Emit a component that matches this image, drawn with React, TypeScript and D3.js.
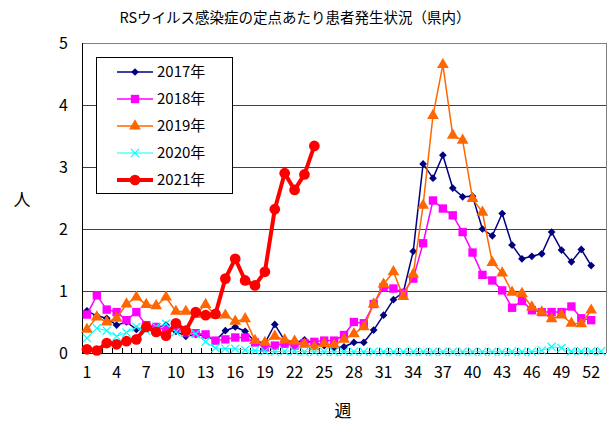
import React from "react";
import * as d3 from "d3";

const width = 610;
const height = 421;
const margin = { top: 43, right: 4, bottom: 68, left: 82 };

const title = "RSウイルス感染症の定点あたり患者発生状況（県内）";
const weekTicks = [1, 4, 7, 10, 13, 16, 19, 22, 25, 28, 31, 34, 37, 40, 43, 46, 49, 52];
const yTicks = [0, 1, 2, 3, 4, 5];

const y2017 = [0.68, 0.6, 0.56, 0.45, 0.5, 0.38, 0.42, 0.42, 0.45, 0.35, 0.27, 0.3, 0.28, 0.2, 0.36, 0.42, 0.35, 0.18, 0.16, 0.46, 0.2, 0.17, 0.21, 0.16, 0.12, 0.08, 0.1, 0.17, 0.17, 0.37, 0.61, 0.86, 0.98, 1.64, 3.05, 2.82, 3.19, 2.66, 2.52, 2.53, 2.0, 1.89, 2.25, 1.74, 1.52, 1.56, 1.6, 1.95, 1.66, 1.47, 1.67, 1.41];
const y2018 = [0.62, 0.93, 0.7, 0.66, 0.53, 0.66, 0.45, 0.42, 0.38, 0.42, 0.33, 0.32, 0.3, 0.2, 0.22, 0.25, 0.25, 0.17, 0.09, 0.12, 0.15, 0.12, 0.16, 0.18, 0.2, 0.2, 0.29, 0.5, 0.48, 0.79, 1.06, 1.04, 0.97, 1.2, 1.77, 2.46, 2.33, 2.22, 1.95, 1.62, 1.26, 1.17, 1.01, 0.73, 0.84, 0.69, 0.66, 0.66, 0.66, 0.75, 0.56, 0.53];
const y2019 = [0.38, 0.58, 0.5, 0.56, 0.79, 0.9, 0.78, 0.76, 0.9, 0.67, 0.67, 0.62, 0.78, 0.61, 0.61, 0.51, 0.55, 0.2, 0.17, 0.27, 0.21, 0.19, 0.14, 0.1, 0.15, 0.13, 0.22, 0.31, 0.42, 0.79, 1.11, 1.31, 0.91, 1.27, 2.38, 3.83, 4.65, 3.51, 3.43, 2.49, 2.27, 1.46, 1.29, 0.98, 0.96, 0.74, 0.66, 0.55, 0.61, 0.48, 0.47, 0.69];
const y2020 = [0.24, 0.4, 0.36, 0.27, 0.33, 0.42, 0.36, 0.42, 0.47, 0.34, 0.33, 0.31, 0.18, 0.08, 0.07, 0.07, 0.05, 0.04, 0.03, 0.02, 0.03, 0.03, 0.02, 0.02, 0.02, 0.02, 0.02, 0.02, 0.02, 0.02, 0.02, 0.02, 0.02, 0.02, 0.02, 0.02, 0.02, 0.02, 0.02, 0.02, 0.02, 0.02, 0.02, 0.02, 0.02, 0.02, 0.04, 0.1, 0.08, 0.03, 0.03, 0.03, 0.03];
const y2021 = [0.06, 0.04, 0.16, 0.14, 0.19, 0.22, 0.42, 0.34, 0.28, 0.48, 0.36, 0.66, 0.61, 0.63, 1.2, 1.52, 1.17, 1.09, 1.31, 2.32, 2.9, 2.63, 2.88, 3.34];

type Series = {
  name: string;
  values: number[];
  color: string;
  lineWidth: number;
  symbol: d3.SymbolType;
  size: number;
  rotate: number;
  stroke: boolean;
};

const series: Series[] = [
  { name: "2017年", values: y2017, color: "#000080", lineWidth: 1.5, symbol: d3.symbolSquare, size: 30, rotate: 45, stroke: false },
  { name: "2018年", values: y2018, color: "#ff00ff", lineWidth: 1.5, symbol: d3.symbolSquare, size: 70, rotate: 0, stroke: false },
  { name: "2019年", values: y2019, color: "#ff6600", lineWidth: 1.5, symbol: d3.symbolTriangle, size: 60, rotate: 0, stroke: false },
  { name: "2020年", values: y2020, color: "#00ffff", lineWidth: 1, symbol: d3.symbolX, size: 45, rotate: 0, stroke: true },
  { name: "2021年", values: y2021, color: "#ff0000", lineWidth: 4, symbol: d3.symbolCircle, size: 90, rotate: 0, stroke: false },
];

const font = "'Noto Sans CJK JP', 'Noto Sans', sans-serif";

const App = () => {
  const x = d3
    .scaleLinear()
    .domain([0.5, 53.5])
    .range([margin.left, width - margin.right]);
  const y = d3
    .scaleLinear()
    .domain([0, 5])
    .range([height - margin.bottom, margin.top]);

  const lineGen = d3
    .line<number>()
    .x((d, i) => x(i + 1))
    .y((d) => y(d));

  const minorTicks = d3.range(1, 53).map((w) => w + 0.5);
  const x0 = margin.left;
  const x1 = width - margin.right;
  const yb = height - margin.bottom;

  const marker = (s: Series, cx: number, cy: number, key: string | number) => (
    <path
      key={key}
      d={d3.symbol(s.symbol, s.size)() as string}
      transform={`translate(${cx},${cy}) rotate(${s.rotate})`}
      fill={s.stroke ? "none" : s.color}
      stroke={s.stroke ? s.color : "none"}
      strokeWidth={s.stroke ? 1.2 : 0}
    />
  );

  const legend = { x: 96, y: 57, w: 136, h: 136 };

  return (
    <svg
      width={width}
      height={height}
      style={{ position: "absolute", left: 0, top: 0, background: "#fff" }}
      fontFamily={font}
    >
      <text x={295} y={23} textAnchor="middle" fontSize={14.5} fill="#000">
        {title}
      </text>

      {/* grid */}
      {yTicks.slice(1).map((t) => (
        <line
          key={t}
          x1={x0}
          x2={x1}
          y1={Math.round(y(t)) + 0.5}
          y2={Math.round(y(t)) + 0.5}
          stroke={t === 5 ? "#808080" : "#404040"}
          strokeWidth={1}
        />
      ))}
      <line x1={x1 + 0.5} x2={x1 + 0.5} y1={y(5)} y2={yb} stroke="#808080" />

      {/* axes */}
      <line x1={x0 + 0.5} x2={x0 + 0.5} y1={y(5)} y2={yb} stroke="#000" />
      <line x1={x0} x2={x1} y1={yb + 0.5} y2={yb + 0.5} stroke="#000" />
      {minorTicks.map((t) => (
        <line
          key={t}
          x1={Math.round(x(t)) + 0.5}
          x2={Math.round(x(t)) + 0.5}
          y1={yb}
          y2={yb - 5}
          stroke="#000"
        />
      ))}
      {yTicks.map((t) => (
        <text key={t} x={68} y={y(t)} dy="0.36em" textAnchor="end" fontSize={16} fill="#000">
          {t}
        </text>
      ))}
      {weekTicks.map((w) => (
        <text key={w} x={x(w)} y={yb + 25} textAnchor="middle" fontSize={16} fill="#000">
          {w}
        </text>
      ))}
      <text x={22} y={206} textAnchor="middle" fontSize={17} fill="#000">
        人
      </text>
      <text x={343} y={417} textAnchor="middle" fontSize={17} fill="#000">
        週
      </text>

      {/* series */}
      {series.map((s) => (
        <g key={s.name}>
          <path
            d={lineGen(s.values) as string}
            fill="none"
            stroke={s.color}
            strokeWidth={s.lineWidth}
            strokeLinejoin="round"
          />
          {s.values.map((v, i) => marker(s, x(i + 1), y(v), i))}
        </g>
      ))}

      {/* legend */}
      <rect
        x={legend.x + 0.5}
        y={legend.y + 0.5}
        width={legend.w}
        height={legend.h}
        fill="#fff"
        stroke="#000"
      />
      {series.map((s, i) => {
        const ly = 72 + i * 27;
        return (
          <g key={s.name}>
            <line x1={117} x2={153} y1={ly} y2={ly} stroke={s.color} strokeWidth={s.lineWidth} />
            {marker(s, 135, ly, "m")}
            <text x={157} y={ly} dy="0.36em" fontSize={15} fill="#000">
              {s.name}
            </text>
          </g>
        );
      })}
    </svg>
  );
};

export default App;
